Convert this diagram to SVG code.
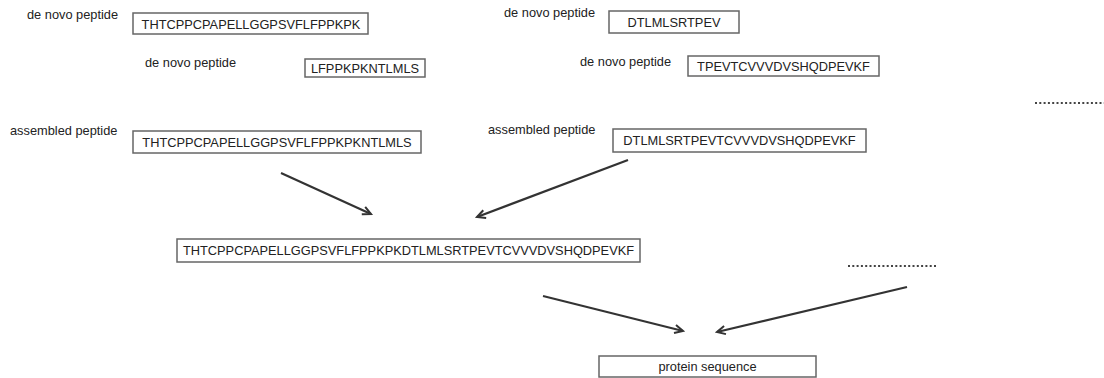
<svg xmlns="http://www.w3.org/2000/svg" width="1104" height="378" viewBox="0 0 1104 378">
<style>
text{font-family:"Liberation Sans",Arial,sans-serif;font-size:12.8px;fill:#222}
.box{fill:#fff;stroke:#666;stroke-width:1.5}
.mid{text-anchor:middle}
.arr{stroke:#333;stroke-width:2.2;fill:none;marker-end:url(#ah)}
.dots{stroke:#444;stroke-width:2;stroke-dasharray:2 2.3;fill:none}
</style>
<defs>
<marker id="ah" viewBox="0 0 12 12" refX="10" refY="6" markerWidth="11" markerHeight="11" orient="auto" markerUnits="userSpaceOnUse">
<polyline points="1,1.5 10,6 1,10.5" fill="none" stroke="#333" stroke-width="2.2"/>
</marker>
</defs>
<rect width="1104" height="378" fill="#fff"/>
<g id="lbl1"><text x="27" y="19">de novo peptide</text></g>
<g id="n1"><rect class="box" x="133" y="13" width="235" height="21"/><text class="mid" x="251" y="28.5">THTCPPCPAPELLGGPSVFLFPPKPK</text></g>
<g id="lbl2"><text x="145" y="67">de novo peptide</text></g>
<g id="n2"><rect class="box" x="305" y="59" width="120" height="18"/><text class="mid" x="365" y="72.5">LFPPKPKNTLMLS</text></g>
<g id="lbl3"><text x="504" y="17">de novo peptide</text></g>
<g id="n3"><rect class="box" x="609" y="11" width="130" height="22"/><text class="mid" x="674" y="26.5">DTLMLSRTPEV</text></g>
<g id="lbl4"><text x="580" y="66">de novo peptide</text></g>
<g id="n4"><rect class="box" x="688" y="56" width="191" height="20"/><text class="mid" x="783.5" y="70.5">TPEVTCVVVDVSHQDPEVKF</text></g>
<g id="lbl5"><text x="10" y="135">assembled peptide</text></g>
<g id="n5"><rect class="box" x="133" y="131" width="288" height="22"/><text class="mid" x="277" y="146.5">THTCPPCPAPELLGGPSVFLFPPKPKNTLMLS</text></g>
<g id="lbl6"><text x="488" y="134">assembled peptide</text></g>
<g id="n6"><rect class="box" x="613" y="129" width="253" height="23"/><text class="mid" x="739.5" y="145">DTLMLSRTPEVTCVVVDVSHQDPEVKF</text></g>
<g id="dots1"><line class="dots" x1="1035" y1="103" x2="1104" y2="103"/></g>
<g id="n7"><rect class="box" x="177" y="239" width="463" height="23"/><text class="mid" x="408.5" y="255">THTCPPCPAPELLGGPSVFLFPPKPKDTLMLSRTPEVTCVVVDVSHQDPEVKF</text></g>
<g id="dots2"><line class="dots" x1="848" y1="266" x2="938" y2="266"/></g>
<g id="n8"><rect class="box" x="599" y="356" width="217" height="21"/><text class="mid" x="707.5" y="371">protein sequence</text></g>
<g id="connectors">
<line class="arr" x1="281" y1="173" x2="371" y2="214"/>
<line class="arr" x1="628" y1="160" x2="477" y2="217"/>
<line class="arr" x1="543" y1="296" x2="683" y2="331"/>
<line class="arr" x1="907" y1="287" x2="717" y2="332"/>
</g>
</svg>
